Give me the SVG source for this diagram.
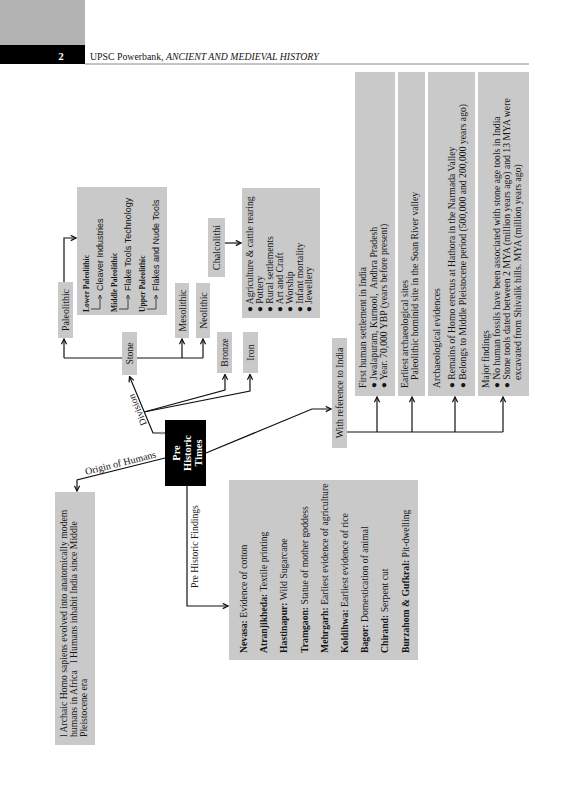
<svg xmlns="http://www.w3.org/2000/svg" width="581" height="800" viewBox="0 0 581 800">
<style>
.bg{fill:#ffffff}
.box{fill:#c9c9c9}
.t{font-family:"Liberation Serif","DejaVu Serif",serif;font-size:9.7px;fill:#151515}
.c{text-anchor:middle}
.b{font-weight:bold}
.s{font-family:"Liberation Sans",Arial,sans-serif;font-size:9px}
.sm{font-size:7.6px;font-weight:bold}
.w{fill:#ffffff;font-weight:bold;font-size:10.4px}
.ln{stroke:#111;stroke-width:1.2;fill:none}
.gl{stroke:#333;stroke-width:0.9;fill:none}
</style>
<defs>
<marker id="ar" viewBox="0 0 8 8" refX="7" refY="4" markerWidth="7" markerHeight="7" markerUnits="userSpaceOnUse" orient="auto">
<path d="M1,1 L7,4 L1,7" fill="none" stroke="#111" stroke-width="1.4"/>
</marker>
<marker id="ar2" viewBox="0 0 8 8" refX="7" refY="4" markerWidth="5" markerHeight="5" markerUnits="userSpaceOnUse" orient="auto">
<path d="M1,1 L7,4 L1,7" fill="none" stroke="#333" stroke-width="1.3"/>
</marker>
</defs>
<rect class="bg" x="0" y="0" width="581" height="800"/>

<g id="header">
<rect x="0" y="0" width="85" height="45" fill="#b3b3b3"/>
<rect x="0" y="45" width="85" height="19" fill="#000"/>
<text x="61" y="60" class="t c" style="fill:#fff;font-weight:bold;font-size:11px">2</text>
<text x="90" y="60" class="t" style="font-size:9.8px">UPSC Powerbank, <tspan font-style="italic">ANCIENT AND MEDIEVAL HISTORY</tspan></text>
<line x1="85" y1="64" x2="529" y2="64" stroke="#8a8a8a" stroke-width="1"/>
</g>

<g id="connectors">
<path class="ln" d="M64,282 L64,238 L76,238" marker-end="url(#ar)"/>
<path class="ln" d="M64,358 L203,358"/>
<path class="ln" d="M64,358 L64,339" marker-end="url(#ar)"/>
<path class="ln" d="M182,358 L182,339" marker-end="url(#ar)"/>
<path class="ln" d="M203,358 L203,339" marker-end="url(#ar)"/>
<path class="ln" d="M225,243 L241,243" marker-end="url(#ar)"/>
<path class="ln" d="M165,433 L153,433 L129.5,376.5" marker-end="url(#ar)"/>
<path class="ln" d="M144,412 L225,390 L225,374.5" marker-end="url(#ar)"/>
<path class="ln" d="M144,412 L250,391 L250,374.5" marker-end="url(#ar)"/>
<path class="ln" d="M165,458 L77,480 L77,491" marker-end="url(#ar)"/>
<path class="ln" d="M187,486 L187,606 L228,606" marker-end="url(#ar)"/>
<path class="ln" d="M206,453 L312,409 L331,409" marker-end="url(#ar)"/>
<path class="ln" d="M347,432 L503,432"/>
<path class="ln" d="M377,432 L377,397" marker-end="url(#ar)"/>
<path class="ln" d="M412,432 L412,397" marker-end="url(#ar)"/>
<path class="ln" d="M455,432 L455,397" marker-end="url(#ar)"/>
<path class="ln" d="M503,432 L503,397" marker-end="url(#ar)"/>
<circle cx="162" cy="433" r="1.6" fill="#999"/>
<text class="t" transform="translate(147,424) rotate(-113)">Division</text>
<text class="t" transform="translate(86,475) rotate(-14)" style="font-size:10px">Origin of Humans</text>
<text class="t" transform="translate(198,588) rotate(-90)">Pre Historic Findings</text>
</g>

<g id="pre-historic-times">
<rect x="165" y="420" width="41" height="66" fill="#000"/>
<text class="t c w" transform="translate(180,453) rotate(-90)">Pre</text>
<text class="t c w" transform="translate(191,453) rotate(-90)">Historic</text>
<text class="t c w" transform="translate(202,453) rotate(-90)">Times</text>
</g>

<g id="paleolithic">
<rect class="box" x="58" y="282" width="15" height="56"/>
<text class="t c" transform="translate(69,310) rotate(-90)" style="font-size:9.8px">Paleolithic</text>
</g>

<g id="paleolithic-detail">
<rect class="box" x="77" y="187" width="90" height="128"/>
<g transform="translate(77,315) rotate(-90)">
<text class="t sm" x="3" y="12">Lower Paleolithic</text>
<path class="gl" d="M6,14 L6,23 L20,23" marker-end="url(#ar2)"/>
<text class="t s" x="24" y="26">Cleaver Industries</text>
<text class="t sm" x="3" y="40">Middle Paleolithic</text>
<path class="gl" d="M6,42 L6,51 L20,51" marker-end="url(#ar2)"/>
<text class="t s" x="24" y="54">Flake Tools Technology</text>
<text class="t sm" x="3" y="68">Upper Paleolithic</text>
<path class="gl" d="M6,70 L6,79 L20,79" marker-end="url(#ar2)"/>
<text class="t s" x="24" y="82">Flakes and Nude Tools</text>
</g>
</g>

<g id="stone">
<rect class="box" x="122" y="332" width="15" height="43"/>
<text class="t c" transform="translate(133,353.5) rotate(-90)">Stone</text>
</g>

<g id="mesolithic">
<rect class="box" x="175" y="283" width="14" height="55"/>
<text class="t c" transform="translate(185.5,310.5) rotate(-90)" style="font-size:9.8px">Mesolithic</text>
</g>

<g id="neolithic">
<rect class="box" x="196" y="283" width="14" height="55"/>
<text class="t c" transform="translate(206.5,310.5) rotate(-90)" style="font-size:9.8px">Neolithic</text>
</g>

<g id="chalcolithi">
<rect class="box" x="208" y="218" width="17" height="59"/>
<text class="t c" transform="translate(220,247.5) rotate(-90)" style="font-size:10.2px">Chalcolithi</text>
</g>

<g id="chalcolithic-detail">
<rect class="box" x="242" y="188" width="78" height="130"/>
<text class="t" transform="translate(253,312) rotate(-90)">● Agriculture &amp; cattle rearing</text>
<text class="t" transform="translate(263,312) rotate(-90)">● Pottery</text>
<text class="t" transform="translate(273,312) rotate(-90)">● Rural settlements</text>
<text class="t" transform="translate(283,312) rotate(-90)">● Art and Craft</text>
<text class="t" transform="translate(292.5,312) rotate(-90)">● Worship</text>
<text class="t" transform="translate(302.5,312) rotate(-90)">● Infant mortality</text>
<text class="t" transform="translate(312,312) rotate(-90)">● Jewellery</text>
</g>

<g id="bronze">
<rect class="box" x="217" y="332" width="15" height="41"/>
<text class="t c" transform="translate(228,352.5) rotate(-90)" style="font-size:9.8px">Bronze</text>
</g>

<g id="iron">
<rect class="box" x="243" y="332" width="15" height="41"/>
<text class="t c" transform="translate(254,352.5) rotate(-90)" style="font-size:9.8px">Iron</text>
</g>

<g id="origin-box">
<rect class="box" x="55" y="492" width="40" height="253"/>
<text class="t" transform="translate(66.5,737) rotate(-90)">l Archaic Homo sapiens evolved into anatomically modem</text>
<text class="t" transform="translate(76.5,737) rotate(-90)">humans in Africa&#160;&#160; l Humans inhabit India since Middle</text>
<text class="t" transform="translate(86.5,737) rotate(-90)">Pleistocene era</text>
</g>

<g id="findings-box">
<rect class="box" x="229" y="480" width="189" height="180"/>
<text class="t" transform="translate(247,653) rotate(-90)"><tspan class="b">Nevasa:</tspan> Evidence of cotton</text>
<text class="t" transform="translate(267.2,653) rotate(-90)"><tspan class="b">Atranjikheda:</tspan> Textile printing</text>
<text class="t" transform="translate(287.4,653) rotate(-90)"><tspan class="b">Hastinapur:</tspan> Wild Sugarcane</text>
<text class="t" transform="translate(307.6,653) rotate(-90)"><tspan class="b">Tramgaon:</tspan> Statue of mother goddess</text>
<text class="t" transform="translate(327.8,653) rotate(-90)"><tspan class="b">Mehrgarh:</tspan> Earliest evidence of agriculture</text>
<text class="t" transform="translate(348,653) rotate(-90)"><tspan class="b">Koldihwa:</tspan> Earliest evidence of rice</text>
<text class="t" transform="translate(368.2,653) rotate(-90)"><tspan class="b">Bagor:</tspan> Domestication of animal</text>
<text class="t" transform="translate(388.4,653) rotate(-90)"><tspan class="b">Chirand:</tspan> Serpent cut</text>
<text class="t" transform="translate(408.6,653) rotate(-90)"><tspan class="b">Burzahom &amp; Gufkral:</tspan> Pit-dwelling</text>
</g>

<g id="india-ref">
<rect class="box" x="332" y="338" width="15" height="110"/>
<text class="t c" transform="translate(343,393) rotate(-90)" style="font-size:9.8px">With reference to India</text>
</g>

<g id="first-settlement">
<rect class="box" x="355" y="72" width="40" height="324"/>
<text class="t" transform="translate(365.5,388) rotate(-90)">First human settlement in India</text>
<text class="t" transform="translate(376.5,388) rotate(-90)">● Jwalapuram, Kurnool,&#160; Andhra Pradesh</text>
<text class="t" transform="translate(386.5,388) rotate(-90)">● Year. 70,000 YBP (years before present)</text>
</g>

<g id="earliest-sites">
<rect class="box" x="398" y="72" width="27" height="324"/>
<text class="t" transform="translate(407.5,388) rotate(-90)">Earliest archaeological sites</text>
<text class="t" transform="translate(418,380) rotate(-90)">Paleolithic hominid site in the Soan River valley</text>
</g>

<g id="archaeological-evidences">
<rect class="box" x="428" y="72" width="47" height="324"/>
<text class="t" transform="translate(440,388) rotate(-90)">Archaeological evidences</text>
<text class="t" transform="translate(455,388) rotate(-90)">● Remains of Homo erectus at Hathora in the Narmada Valley</text>
<text class="t" transform="translate(466,388) rotate(-90)">● Belongs to Middle Pleistocene period (500,000 and 200,000 years ago)</text>
</g>

<g id="major-findings">
<rect class="box" x="478" y="72" width="51" height="324"/>
<text class="t" transform="translate(489,388) rotate(-90)">Major findings</text>
<text class="t" transform="translate(499.5,388) rotate(-90)">● No human fossils have been associated with stone age tools in India</text>
<text class="t" transform="translate(510,388) rotate(-90)">● Stone tools dated between 2 MYA (million years ago) and 13 MYA were</text>
<text class="t" transform="translate(520.5,380) rotate(-90)">excavated from Shivalik hills. MYA (million years ago)</text>
</g>
</svg>
